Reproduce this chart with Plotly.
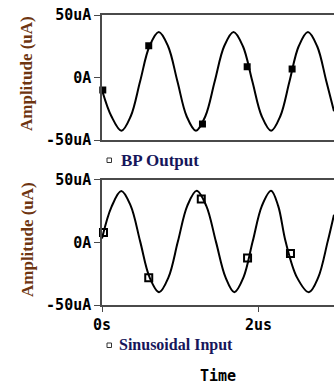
import plotly.graph_objects as go

# ---- data (time in us, amplitude in uA) ----
bp_t = [0.0, 0.12, 0.248, 0.367, 0.487, 0.606, 0.725, 0.844, 0.963, 1.081, 1.20,
        1.32, 1.44, 1.56, 1.68, 1.80, 1.92, 2.04, 2.16, 2.277, 2.395, 2.512, 2.63,
        2.748, 2.865, 2.963]
bp_v = [-10, -31, -42.6, -31, -3, 25, 36.4, 25, -3, -31, -42.6,
        -31, -3, 25, 36.4, 25, -3, -31, -42.6, -31, -3, 25, 36.4,
        25, -3, -27]
bp_mt = [0.01, 0.597, 1.283, 1.854, 2.428]
bp_mv = [-10, 25.4, -37.2, 8.6, 6.8]

sin_t = [0.0, 0.12, 0.246, 0.367, 0.488, 0.608, 0.729, 0.849, 0.969, 1.089, 1.209,
         1.332, 1.455, 1.578, 1.69, 1.807, 1.924, 2.042, 2.159, 2.25, 2.345, 2.49,
         2.642, 2.762, 2.882, 2.963]
sin_v = [3, 28, 40.8, 29, 0.5, -28, -39.8, -28, 0.5, 29, 41,
         29, 0.5, -28, -39.8, -28, 0.5, 29, 41, 29, 0.5, -28,
         -39.8, -28, 0.5, 22]
sin_mt = [0.019, 0.597, 1.268, 1.859, 2.407]
sin_mv = [7.7, -28.2, 34.4, -12.5, -9]

y_ticks = [-50, 0, 50]
y_labels = ["-50uA", "0A", "50uA"]
x_ticks = [0, 2]
x_labels = ["0s", "2us"]
x_range = [0, 2.963]

# ---- figure ----
W, H = 334, 388
L, R, T, B = 102, 0, 15, 83
PW, PH = W - L - R, H - T - B

def px(x):
    return (x - L) / PW

def py(y):
    return (H - B - y) / PH

axis_col = "#4a4a4a"
mono = "DejaVu Sans Mono"
serif = "Liberation Serif"
title_col = "#6e3510"
legend_col = "#16165a"

fig = go.Figure()
fig.add_trace(go.Scatter(x=bp_t, y=bp_v, mode="lines", line=dict(color="black", width=2, shape="spline"),
                         xaxis="x", yaxis="y", showlegend=False, hoverinfo="skip"))
fig.add_trace(go.Scatter(x=bp_mt, y=bp_mv, mode="markers", cliponaxis=False,
                         marker=dict(symbol="square", size=7, color="black"),
                         xaxis="x", yaxis="y", showlegend=False))
fig.add_trace(go.Scatter(x=sin_t, y=sin_v, mode="lines", line=dict(color="black", width=2, shape="spline"),
                         xaxis="x2", yaxis="y2", showlegend=False, hoverinfo="skip"))
fig.add_trace(go.Scatter(x=sin_mt, y=sin_mv, mode="markers", cliponaxis=False,
                         marker=dict(symbol="square-open", size=7, color="black", line=dict(width=2)),
                         xaxis="x2", yaxis="y2", showlegend=False))

common_y = dict(range=[-50, 50], tickvals=y_ticks, ticktext=y_labels, ticks="outside", ticklen=6,
                tickcolor=axis_col, showline=True, linecolor=axis_col, linewidth=1.5,
                showgrid=False, zeroline=False,
                tickfont=dict(family=mono, size=15, color="black", weight="bold"))

fig.update_layout(
    width=W, height=H,
    margin=dict(l=L, r=R, t=T, b=B),
    paper_bgcolor="white", plot_bgcolor="white",
    xaxis=dict(domain=[0, 1], range=x_range, anchor="y", showline=True, mirror=True,
               linecolor=axis_col, linewidth=1.5, showgrid=False, zeroline=False,
               showticklabels=False, ticks=""),
    yaxis=dict(domain=[py(140), py(15)], anchor="x", **common_y),
    xaxis2=dict(domain=[0, 1], range=x_range, anchor="y2", showline=True, mirror=True,
                linecolor=axis_col, linewidth=1.5, showgrid=False, zeroline=False,
                tickvals=x_ticks, ticktext=x_labels, ticks="outside", ticklen=5, tickcolor=axis_col,
                tickfont=dict(family=mono, size=15, color="black", weight="bold")),
    yaxis2=dict(domain=[0, py(179.5)], anchor="x2", **common_y),
)

# y axis titles
for yc in (74, 240):
    fig.add_annotation(text="Amplitude (uA)", xref="paper", yref="paper", x=px(27), y=py(yc),
                       textangle=-90, showarrow=False, xanchor="center", yanchor="middle",
                       font=dict(family=serif, size=17, color=title_col, weight="bold"))

# legends
for (sy, tx, label, fs) in ((160, 119, "BP Output", 17), (345, 117, "Sinusoidal Input", 16)):
    fig.add_shape(type="rect", xref="paper", yref="paper",
                  x0=px(107), x1=px(111.5), y0=py(sy + 2.5), y1=py(sy - 2),
                  line=dict(color="#333333", width=1), fillcolor="white")
    fig.add_annotation(text=label, xref="paper", yref="paper", x=px(tx), y=py(sy),
                       showarrow=False, xanchor="left", yanchor="middle",
                       font=dict(family=serif, size=fs, color=legend_col, weight="bold"))

fig.add_annotation(text="Time", xref="paper", yref="paper", x=px(218), y=py(376),
                   showarrow=False, xanchor="center", yanchor="middle",
                   font=dict(family=mono, size=15, color="black", weight="bold"))

fig.write_html("out.html", config={"displayModeBar": False},
               post_script="document.body.style.margin='0';document.body.style.overflow='hidden';")
